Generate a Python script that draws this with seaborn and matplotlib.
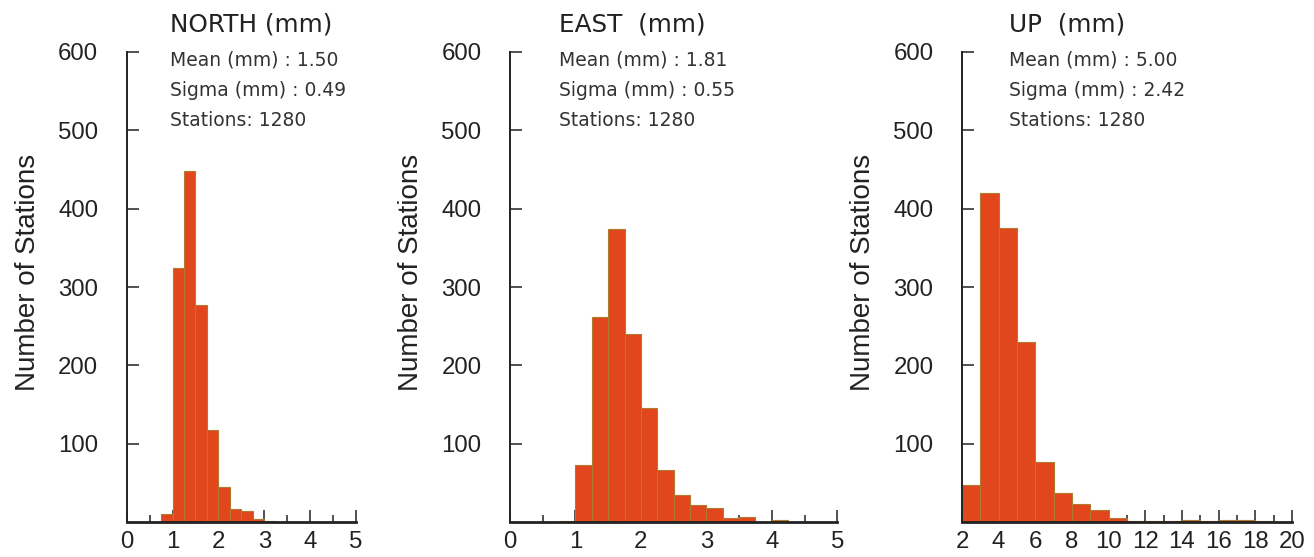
import matplotlib
matplotlib.use('Agg')
import matplotlib.pyplot as plt
import seaborn as sns

# --- data (bin left edges + station counts) ---
north_bins = [0.75, 1.0, 1.25, 1.5, 1.75, 2.0, 2.25, 2.5, 2.75, 3.0]
north_counts = [10, 324, 448, 277, 118, 45, 16, 14, 4, 1]

east_bins = [0.75, 1.0, 1.25, 1.5, 1.75, 2.0, 2.25, 2.5, 2.75, 3.0, 3.25, 3.5, 3.75, 4.0]
east_counts = [1, 73, 262, 374, 240, 145, 67, 34, 22, 18, 5, 7, 0, 3]

up_bins = [2, 3, 4, 5, 6, 7, 8, 9, 10, 11, 12, 13, 14, 15, 16, 17, 18, 19]
up_counts = [47, 420, 375, 230, 76, 37, 23, 15, 5, 1, 1, 1, 3, 1, 3, 2, 1, 0]

titles = ['NORTH (mm)', 'EAST  (mm)', 'UP  (mm)']
means = ['1.50', '1.81', '5.00']
sigmas = ['0.49', '0.55', '2.42']
stations = [1280, 1280, 1280]

# --- style ---
sns.set_style('ticks')
plt.rcParams['font.family'] = ['DejaVu Sans']

fig = plt.figure(figsize=(13.14, 5.57), dpi=100)
W, H = 1314, 557
# axes boxes in pixels: left, width
boxes = [(126.7, 229.3), (510, 327.3), (962, 330)]
bottom_px, top_px = 522, 52

panels = [
    (north_bins, north_counts, 0.25, (0, 5), [0, 1, 2, 3, 4, 5],
     [0.5, 1.5, 2.5, 3.5, 4.5], 0.189),
    (east_bins, east_counts, 0.25, (0, 5), [0, 1, 2, 3, 4, 5],
     [0.5, 1.5, 2.5, 3.5, 4.5], 0.151),
    (up_bins, up_counts, 1, (2, 20), [2, 4, 6, 8, 10, 12, 14, 16, 18, 20],
     [3, 5, 7, 9, 11, 13, 15, 17, 19], 0.143),
]

bar_color = '#E2461C'
edge_color = '#B07A30'
ink = '#222222'

for i, (bins, counts, width, xlim, majors, minors, tx) in enumerate(panels):
    left, wpx = boxes[i]
    ax = fig.add_axes([left / W, (H - bottom_px) / H, wpx / W,
                       (bottom_px - top_px) / H])
    edges = bins + [bins[-1] + width]
    centers = [b + width / 2 for b in bins]
    sns.histplot(x=centers, weights=counts, bins=edges, ax=ax,
                 color=bar_color, edgecolor=edge_color, linewidth=0.8,
                 alpha=1)
    ax.set_xlim(*xlim)
    ax.set_ylim(0, 600)
    ax.set_yticks([100, 200, 300, 400, 500, 600])
    ax.set_xticks(majors)
    ax.set_xticks(minors, minor=True)
    sns.despine(ax=ax)
    ax.spines['bottom'].set_linewidth(2.0)
    ax.spines['left'].set_linewidth(1.4)
    ax.spines['bottom'].set_color(ink)
    ax.spines['left'].set_color(ink)
    ax.tick_params(axis='y', direction='in', length=8.5, width=1.1,
                   pad=20.5, colors=ink, labelsize=17.3)
    ax.tick_params(axis='x', which='major', direction='in', length=8.5,
                   width=1.1, pad=6.5, colors=ink, labelsize=17.3)
    ax.tick_params(axis='x', which='minor', direction='in', length=5,
                   width=1.1, colors=ink)
    for lab in ax.get_xticklabels() + ax.get_yticklabels():
        lab.set_fontfamily('Liberation Sans')
    ax.set_xlabel('')
    ax.set_ylabel('Number of Stations', fontsize=20, color=ink,
                  family='Liberation Sans')
    ax.yaxis.set_label_coords(-86 / wpx, 0.53)

    ax.text(tx, 1.043, titles[i], transform=ax.transAxes, fontsize=17.8,
            va='baseline', ha='left', color=ink)
    ax.text(tx, 0.971, f'Mean (mm) : {means[i]}', transform=ax.transAxes,
            fontsize=13.5, va='baseline', ha='left', color='#333333')
    ax.text(tx, 0.907, f'Sigma (mm) : {sigmas[i]}', transform=ax.transAxes,
            fontsize=13.5, va='baseline', ha='left', color='#333333')
    ax.text(tx, 0.843, f'Stations: {stations[i]}', transform=ax.transAxes,
            fontsize=13.5, va='baseline', ha='left', color='#333333')

fig.savefig('out.png', dpi=100)
